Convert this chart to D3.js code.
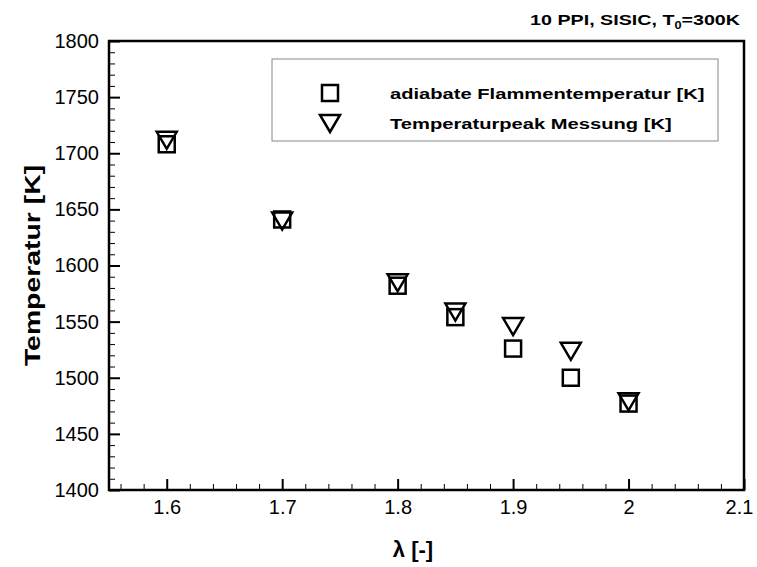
<!DOCTYPE html>
<html>
<head>
<meta charset="utf-8">
<script src="https://d3js.org/d3.v7.min.js"></script>
<style>
  body { margin: 0; background: #fff; }
  text { font-family: "Liberation Sans", Arial, Helvetica, sans-serif; }
</style>
</head>
<body>
<svg id="chart" width="757" height="567"></svg>
<script>
// data
const lambdas = [1.6, 1.7, 1.8, 1.85, 1.9, 1.95, 2.0];
const adiabatic = [1708, 1641, 1582, 1554, 1526, 1500, 1477];
const measured = [1712, 1640, 1585, 1559, 1546, 1524, 1479];
const xTicks = [1.6, 1.7, 1.8, 1.9, 2, 2.1];
const yTicks = [1400, 1450, 1500, 1550, 1600, 1650, 1700, 1750, 1800];
const seriesNames = ['adiabate Flammentemperatur [K]', 'Temperaturpeak Messung [K]'];

const svg = d3.select('#chart');
const margin = { top: 41, right: 13, bottom: 77, left: 109 };
const width = +svg.attr('width') - margin.left - margin.right;
const height = +svg.attr('height') - margin.top - margin.bottom;

const x = d3.scaleLinear().domain([1.55, 2.1]).range([0, width]);
const y = d3.scaleLinear().domain([1400, 1800]).range([height, 0]);

const g = svg.append('g').attr('transform', `translate(${margin.left},${margin.top})`);

// minor ticks (inward)
const xMinor = d3.range(1.56, 2.1, 0.02).filter(v => Math.abs(v * 10 - Math.round(v * 10)) > 0.01);
const yMinor = d3.range(1410, 1800, 10).filter(v => v % 50 !== 0);

g.append('g')
  .attr('transform', `translate(0,${height})`)
  .call(d3.axisTop(x).tickValues(xMinor).tickSize(6).tickFormat(''))
  .call(a => a.select('.domain').remove())
  .selectAll('line').attr('stroke', '#000').attr('stroke-width', 1);

g.append('g')
  .call(d3.axisRight(y).tickValues(yMinor).tickSize(6).tickFormat(''))
  .call(a => a.select('.domain').remove())
  .selectAll('line').attr('stroke', '#000').attr('stroke-width', 1);

// major ticks
g.append('g')
  .attr('transform', `translate(0,${height})`)
  .call(d3.axisTop(x).tickValues(xTicks).tickSize(11).tickFormat(''))
  .call(a => a.select('.domain').remove())
  .selectAll('line').attr('stroke', '#000').attr('stroke-width', 2);

g.append('g')
  .call(d3.axisRight(y).tickValues(yTicks).tickSize(11).tickFormat(''))
  .call(a => a.select('.domain').remove())
  .selectAll('line').attr('stroke', '#000').attr('stroke-width', 2);

// tick labels
g.append('g')
  .attr('transform', `translate(0,${height})`)
  .call(d3.axisBottom(x).tickValues(xTicks).tickSize(0).tickPadding(10).tickFormat(d3.format('')))
  .call(a => a.select('.domain').remove())
  .selectAll('text').attr('font-size', 20).attr('fill', '#000')
  .attr('font-family', '"Liberation Sans", Arial, sans-serif')
  .attr('dx', d => d === 2.1 ? -5 : 0);

g.append('g')
  .call(d3.axisLeft(y).tickValues(yTicks).tickSize(0).tickPadding(10).tickFormat(d3.format('')))
  .call(a => a.select('.domain').remove())
  .selectAll('text').attr('font-size', 20).attr('fill', '#000')
  .attr('font-family', '"Liberation Sans", Arial, sans-serif');

// frame
g.append('rect')
  .attr('width', width).attr('height', height)
  .attr('fill', 'none').attr('stroke', '#000').attr('stroke-width', 2.5);

// markers
const sq = 16;
const triPath = 'M-10,-8 L10,-8 L0,9 Z';

g.selectAll('rect.adi').data(lambdas)
  .join('rect').attr('class', 'adi')
  .attr('x', (d) => x(d) - sq / 2)
  .attr('y', (d, i) => y(adiabatic[i]) - sq / 2)
  .attr('width', sq).attr('height', sq)
  .attr('fill', 'none').attr('stroke', '#000').attr('stroke-width', 2.5);

g.selectAll('path.meas').data(lambdas)
  .join('path').attr('class', 'meas')
  .attr('d', triPath)
  .attr('transform', (d, i) => `translate(${x(d)},${y(measured[i])})`)
  .attr('fill', 'none').attr('stroke', '#000').attr('stroke-width', 2.5);

// legend
const leg = svg.append('g').attr('transform', 'translate(272,59)');
leg.append('rect').attr('width', 446).attr('height', 82)
  .attr('fill', '#fff').attr('stroke', '#888').attr('stroke-width', 1);
leg.append('rect').attr('x', 58 - sq / 2).attr('y', 34 - sq / 2)
  .attr('width', sq).attr('height', sq)
  .attr('fill', 'none').attr('stroke', '#000').attr('stroke-width', 2.5);
leg.append('path').attr('d', triPath).attr('transform', 'translate(58,64)')
  .attr('fill', 'none').attr('stroke', '#000').attr('stroke-width', 2.5);
leg.selectAll('g.lab').data(seriesNames)
  .join('g').attr('class', 'lab')
  .attr('transform', (d, i) => `translate(118,${40 + i * 30}) scale(1.3,1)`)
  .append('text')
  .attr('font-size', 15.5).attr('font-weight', 'bold')
  .text(d => d);

// title (wide bold lettering as in the original)
const title = svg.append('g').attr('transform', 'translate(740,25) scale(1.27,1)')
  .append('text')
  .attr('text-anchor', 'end')
  .attr('font-size', 15.5).attr('font-weight', 'bold');
title.append('tspan').text('10 PPI, SISIC, T');
title.append('tspan').attr('font-size', 10).attr('dy', 4).text('0');
title.append('tspan').attr('dy', -4).text('=300K');

// axis titles
svg.append('text')
  .attr('x', 413).attr('y', 557)
  .attr('text-anchor', 'middle')
  .attr('font-size', 22).attr('font-weight', 'bold')
  .text('λ [-]');

svg.append('g')
  .attr('transform', `translate(40,${margin.top + height / 2}) rotate(-90) scale(1.29,1)`)
  .append('text')
  .attr('text-anchor', 'middle')
  .attr('font-size', 22).attr('font-weight', 'bold')
  .text('Temperatur [K]');
</script>
</body>
</html>
